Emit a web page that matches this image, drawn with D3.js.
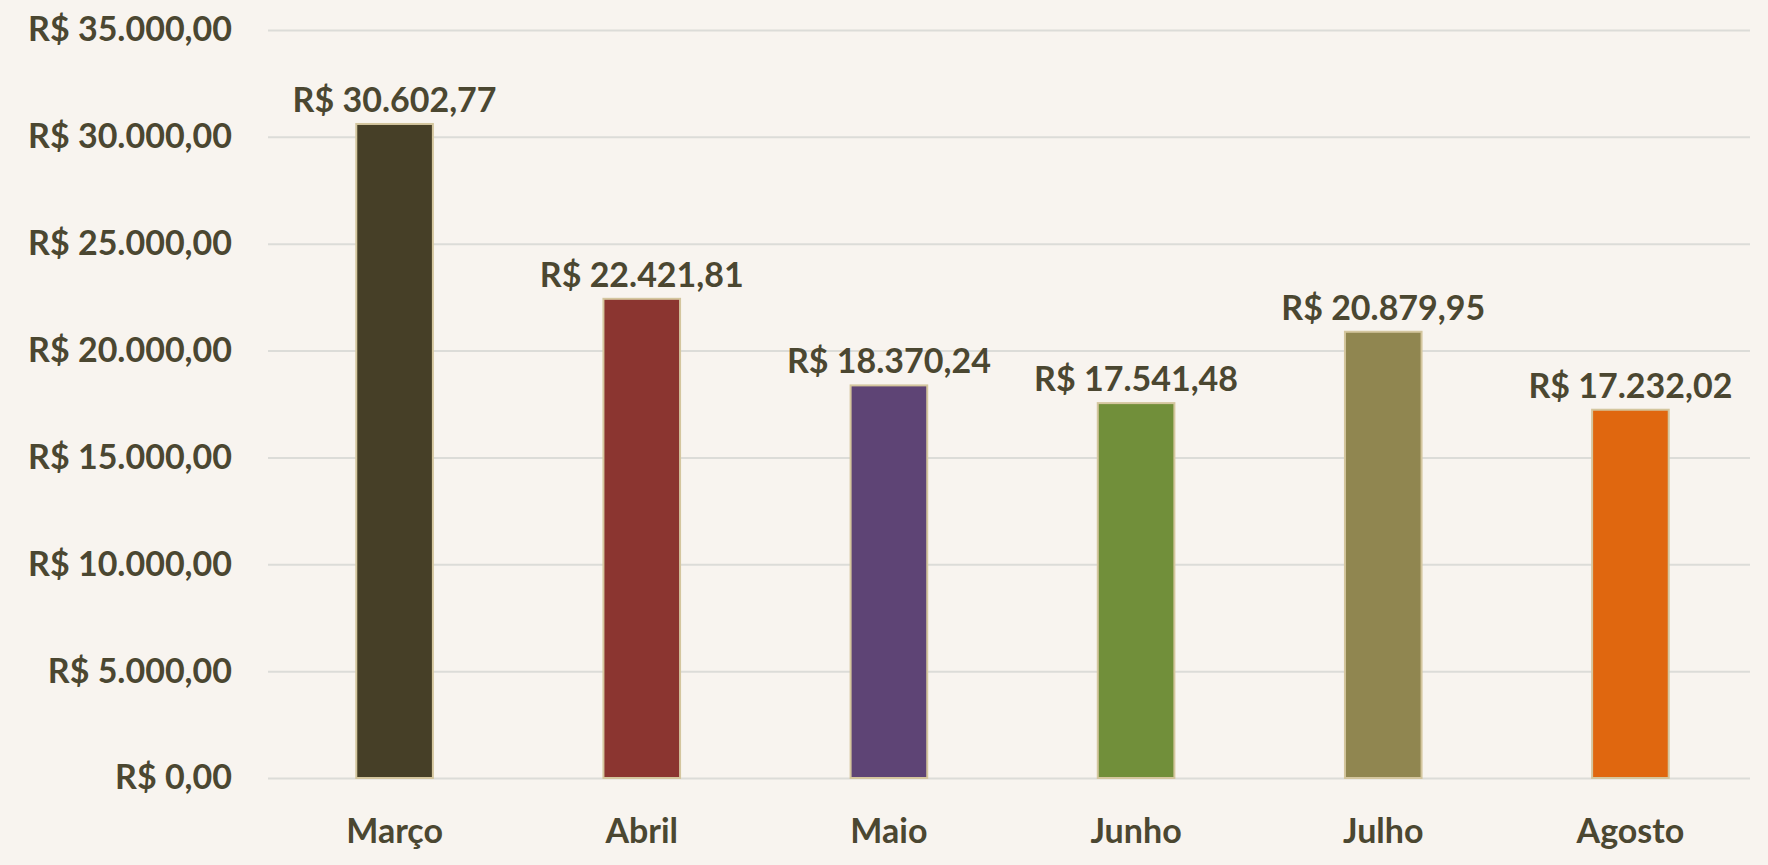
<!DOCTYPE html>
<html>
<head>
<meta charset="utf-8">
<script src="https://cdn.jsdelivr.net/npm/d3@7"></script>
<style>
  html, body { margin: 0; padding: 0; background: #f8f4ef; }
  svg { display: block; }
  text { font-family: Lato, "Open Sans", sans-serif; font-weight: bold; fill: #4b4731; }
</style>
</head>
<body>
<svg></svg>
<script>
var width = 1768;
var height = 865;

var months = ["Março", "Abril", "Maio", "Junho", "Julho", "Agosto"];
var totals = [30602.77, 22421.81, 18370.24, 17541.48, 20879.95, 17232.02];
var barColors = ["#463f27", "#8b3530", "#5e4475", "#718f3a", "#908650", "#e0670f"];
var yTicks = [0, 5000, 10000, 15000, 20000, 25000, 30000, 35000];

var margin = {top: 30, right: 18, bottom: 87, left: 268};

var brl = d3.formatLocale({
  decimal: ",",
  thousands: ".",
  grouping: [3],
  currency: ["R$ ", ""]
}).format("$,.2f");

var data = months.map((m, i) => ({month: m, value: totals[i], color: barColors[i]}));

var svg = d3.select("svg")
  .attr("width", width)
  .attr("height", height);

svg.append("rect")
  .attr("width", width)
  .attr("height", height)
  .attr("fill", "#f8f4ef");

// bands sit a touch right of the grid, like the original
var xScale = d3.scaleBand()
  .domain(months)
  .range([margin.left + 3, width - margin.right + 4])
  .paddingInner(0.69)
  .paddingOuter(0.345);

var yScale = d3.scaleLinear()
  .domain([0, 35000])
  .range([height - margin.bottom, margin.top]);

// grid + y labels
var yAxis = d3.axisLeft(yScale)
  .tickValues(yTicks)
  .tickSize(-(width - margin.left - margin.right))
  .tickPadding(36)
  .tickFormat(brl);

var gy = svg.append("g")
  .attr("transform", "translate(" + margin.left + ",0)")
  .call(yAxis);
gy.select(".domain").remove();
gy.selectAll(".tick line")
  .attr("stroke", "#dcdcd8")
  .attr("stroke-width", 2);
gy.selectAll(".tick text")
  .style("font-size", "34px")
  .attr("font-family", null)
  .attr("fill", null);

// category labels
var xAxis = d3.axisBottom(xScale)
  .tickSize(0)
  .tickPadding(41);

var gx = svg.append("g")
  .attr("transform", "translate(0," + (height - margin.bottom) + ")")
  .call(xAxis);
gx.select(".domain").remove();
gx.selectAll(".tick text")
  .style("font-size", "34px")
  .attr("font-family", null)
  .attr("fill", null);

// bars
svg.selectAll("rect.bar")
  .data(data)
  .enter()
  .append("rect")
    .attr("class", "bar")
    .attr("x", d => xScale(d.month))
    .attr("y", d => yScale(d.value))
    .attr("width", xScale.bandwidth())
    .attr("height", d => yScale(0) - yScale(d.value))
    .attr("fill", d => d.color)
    .attr("stroke", "#d4c69e")
    .attr("stroke-width", 2);

// value labels
svg.selectAll("text.value")
  .data(data)
  .enter()
  .append("text")
    .attr("class", "value")
    .attr("x", d => xScale(d.month) + xScale.bandwidth() / 2)
    .attr("y", d => yScale(d.value) - 12)
    .style("text-anchor", "middle")
    .style("font-size", "34px")
    .text(d => brl(d.value));
</script>
</body>
</html>
